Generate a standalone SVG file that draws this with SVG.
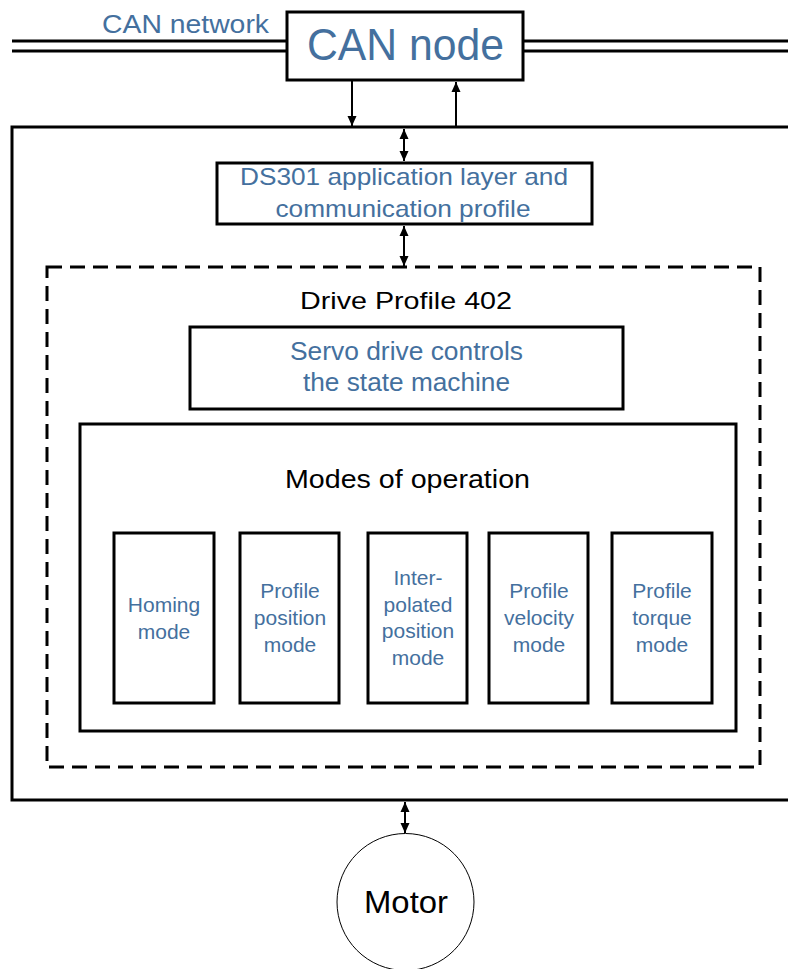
<svg xmlns="http://www.w3.org/2000/svg" width="788" height="969" viewBox="0 0 788 969">
<defs>
<marker id="ah" viewBox="0 0 10 10" refX="10" refY="5" markerWidth="10" markerHeight="10" markerUnits="userSpaceOnUse" orient="auto-start-reverse">
<path d="M0,0.5 L10,5 L0,9.5 z" fill="#000"/>
</marker>
</defs>
<style>
.box{fill:#fff;stroke:#000;stroke-width:3}
.mode{fill:#fff;stroke:#000;stroke-width:3}
.blue{fill:#44709e;font-family:"Liberation Sans",Arial,sans-serif;text-anchor:middle}
.blk{fill:#000;font-family:"Liberation Sans",Arial,sans-serif;text-anchor:middle}
.m{font-size:21px}
.conn{stroke:#000;stroke-width:2;fill:none}
.bus{stroke:#000;stroke-width:3;fill:none}
</style>
<rect width="788" height="969" fill="#fff"/>
<g id="bus">
<line class="bus" x1="12" y1="41" x2="288" y2="41"/>
<line class="bus" x1="12" y1="51" x2="288" y2="51"/>
<line class="bus" x1="522" y1="41" x2="788" y2="41"/>
<line class="bus" x1="522" y1="51" x2="788" y2="51"/>
<text class="blue" x="185.5" y="33" font-size="25" textLength="167" lengthAdjust="spacingAndGlyphs">CAN network</text>
</g>
<g id="drive">
<rect class="box" x="12" y="127" width="800" height="673"/>
</g>
<g id="can-node">
<rect class="box" x="287" y="12" width="236" height="68"/>
<text class="blue" x="405.5" y="60" font-size="44" textLength="197" lengthAdjust="spacingAndGlyphs">CAN node</text>
</g>
<g id="ds301">
<rect class="box" x="217" y="163" width="375" height="61"/>
<text class="blue" x="404" y="185" font-size="24" textLength="328" lengthAdjust="spacingAndGlyphs">DS301 application layer and</text>
<text class="blue" x="403" y="217" font-size="24" textLength="255" lengthAdjust="spacingAndGlyphs">communication profile</text>
</g>
<g id="profile402">
<rect x="47" y="267" width="713" height="500" fill="none" stroke="#000" stroke-width="3" stroke-dasharray="15,8"/>
<text class="blk" x="406" y="309" font-size="24" textLength="212" lengthAdjust="spacingAndGlyphs">Drive Profile 402</text>
</g>
<g id="servo">
<rect class="box" x="190" y="327" width="433" height="82"/>
<text class="blue" x="406.5" y="360" font-size="25" textLength="233" lengthAdjust="spacingAndGlyphs">Servo drive controls</text>
<text class="blue" x="406.5" y="391" font-size="25" textLength="207" lengthAdjust="spacingAndGlyphs">the state machine</text>
</g>
<g id="modes">
<rect class="box" x="80" y="424" width="656" height="307"/>
<text class="blk" x="407.5" y="488" font-size="25" textLength="245" lengthAdjust="spacingAndGlyphs">Modes of operation</text>
</g>
<g id="homing">
<rect class="mode" x="114" y="533" width="100" height="170"/>
<text class="blue m" x="164" y="612">Homing</text>
<text class="blue m" x="164" y="639">mode</text>
</g>
<g id="profile-position">
<rect class="mode" x="240" y="533" width="99" height="170"/>
<text class="blue m" x="290" y="598">Profile</text>
<text class="blue m" x="290" y="625">position</text>
<text class="blue m" x="290" y="652">mode</text>
</g>
<g id="interpolated">
<rect class="mode" x="368" y="533" width="99" height="170"/>
<text class="blue m" x="418" y="585">Inter-</text>
<text class="blue m" x="418" y="612">polated</text>
<text class="blue m" x="418" y="638">position</text>
<text class="blue m" x="418" y="665">mode</text>
</g>
<g id="profile-velocity">
<rect class="mode" x="489" y="533" width="99" height="170"/>
<text class="blue m" x="539" y="598">Profile</text>
<text class="blue m" x="539" y="625">velocity</text>
<text class="blue m" x="539" y="652">mode</text>
</g>
<g id="profile-torque">
<rect class="mode" x="612" y="533" width="100" height="170"/>
<text class="blue m" x="662" y="598">Profile</text>
<text class="blue m" x="662" y="625">torque</text>
<text class="blue m" x="662" y="652">mode</text>
</g>
<g id="motor">
<circle cx="405.5" cy="902" r="68.5" fill="#fff" stroke="#000" stroke-width="1"/>
<text class="blk" x="406" y="913" font-size="31" textLength="84" lengthAdjust="spacingAndGlyphs">Motor</text>
</g>
<g id="connectors">
<line class="conn" x1="352" y1="81" x2="352" y2="126" marker-end="url(#ah)"/>
<line class="conn" x1="456" y1="126" x2="456" y2="82" marker-end="url(#ah)"/>
<line class="conn" x1="404" y1="129" x2="404" y2="161" marker-start="url(#ah)" marker-end="url(#ah)"/>
<line class="conn" x1="404" y1="226" x2="404" y2="266" marker-start="url(#ah)" marker-end="url(#ah)"/>
<line class="conn" x1="405" y1="802" x2="405" y2="833" marker-start="url(#ah)" marker-end="url(#ah)"/>
</g>
</svg>
